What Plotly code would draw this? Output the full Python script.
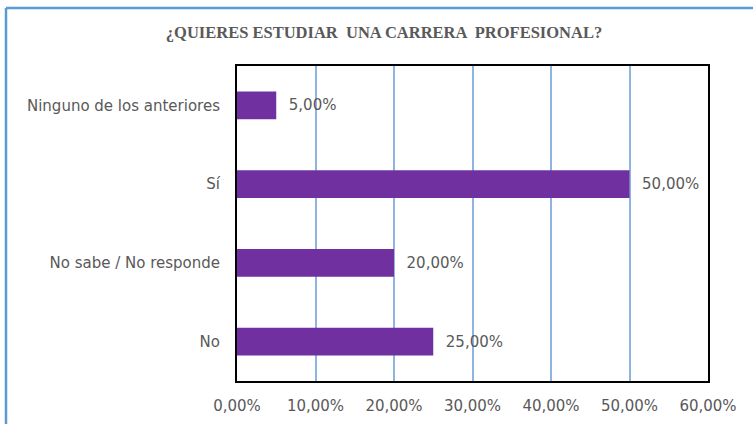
import plotly.graph_objects as go

categories = ["No", "No sabe / No responde", "Sí", "Ninguno de los anteriores"]
values = [0.25, 0.20, 0.50, 0.05]
x_ticks = [0, 0.1, 0.2, 0.3, 0.4, 0.5, 0.6]
title_text = "¿QUIERES ESTUDIAR  UNA CARRERA  PROFESIONAL?"

W, H = 753, 424
L, R, T, B = 237, 45, 66, 43
pw, ph = W - L - R, H - T - B

def px_x(p):
    return (p - L) / pw

def px_y(p):
    return 1 - (p - T) / ph

FONT = "DejaVu Sans, Liberation Sans"

fig = go.Figure(go.Bar(
    y=categories, x=values, orientation="h",
    marker=dict(color="#7030A0", line=dict(width=0)),
    width=0.35,
    texttemplate="\u00a0\u00a0%{x:.2%}", textposition="outside",
    textfont=dict(family=FONT, size=15, color="#595959"),
    cliponaxis=False,
    hoverinfo="skip",
))

fig.update_layout(
    width=W, height=H,
    margin=dict(l=L, r=R, t=T, b=B, autoexpand=False),
    paper_bgcolor="white", plot_bgcolor="white",
    separators=",.",
    showlegend=False,
    title=dict(text="<b>" + title_text + "</b>", x=384 / W, xanchor="center", y=1 - 32 / H, yanchor="middle",
               font=dict(family="Liberation Serif, Times New Roman", size=16.5, color="#595959")),
    xaxis=dict(range=[0, 0.6], tickvals=x_ticks, tickformat=".2%", automargin=False,
               showgrid=True, gridcolor="#8EB4E3", gridwidth=1.5,
               zeroline=False, showline=True, linecolor="black", linewidth=2, mirror=True,
               ticks="", ticklabelstandoff=10,
               tickfont=dict(family=FONT, size=15, color="#595959")),
    yaxis=dict(showgrid=False, zeroline=False, showline=True, linecolor="black", linewidth=2, mirror=True,
               ticks="", ticklabelstandoff=12, automargin=False,
               tickfont=dict(family=FONT, size=15, color="#595959")),
)

# outer frame (blue top and left edge)
fig.add_shape(type="line", xref="paper", yref="paper", x0=px_x(6), x1=px_x(W + 5), y0=px_y(8), y1=px_y(8),
              line=dict(color="#5B9BD5", width=2.5))
fig.add_shape(type="line", xref="paper", yref="paper", x0=px_x(6), x1=px_x(6), y0=px_y(8), y1=px_y(H + 5),
              line=dict(color="#5B9BD5", width=2.5))

fig.write_html("out.html", config={"displayModeBar": False},
               post_script="document.body.style.margin='0';document.body.style.overflow='hidden';")
